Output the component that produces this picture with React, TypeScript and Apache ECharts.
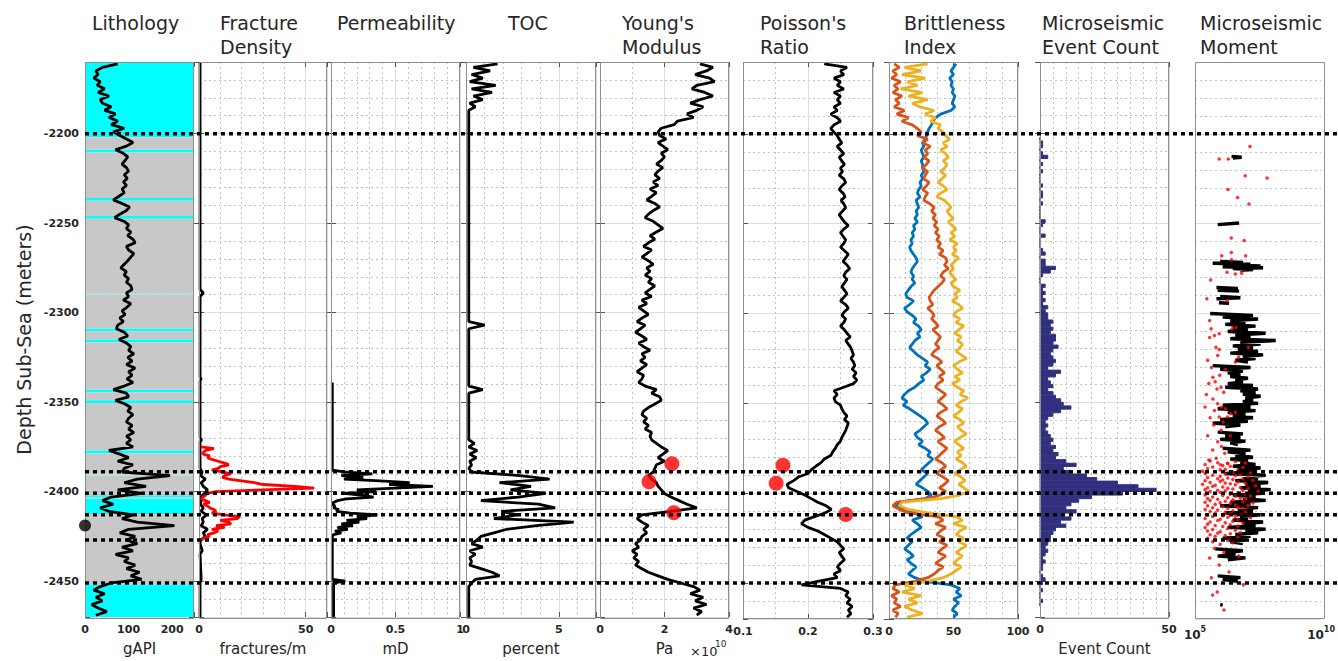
import React, { useEffect, useRef } from "react";
import * as echarts from "echarts";

// ---------------- depth axis ----------------
const DEPTH_MIN = -2470;
const DEPTH_MAX = -2160;
const DEPTH_MINOR_STEP = 10;

// log curves sampled every 2 m from -2161 m downward
const LOG_TOP = -2161;
const LOG_STEP = 2;

// ---------------- log curves (one value per sample) ----------------
const gammaRay = [
  75, 40, 25, 30, 20, 35, 28, 45, 30, 55,
  35, 40, 60, 45, 70, 55, 75, 60, 90, 65,
  80, 95, 110, 95, 70, 88, 98, 92, 85, 95,
  100, 90, 97, 88, 95, 85, 90, 78, 65, 85,
  102, 95, 80, 68, 90, 100, 95, 105, 98, 110,
  115, 95, 100, 112, 105, 98, 90, 82, 95, 90,
  100, 95, 105, 108, 95, 100, 88, 105, 96, 85,
  92, 80, 88, 75, 72, 90, 98, 78, 95, 105,
  100, 112, 98, 108, 95, 115, 100, 108, 96, 110,
  90, 65, 95, 100, 70, 92, 105, 98, 110, 100,
  95, 108, 100, 112, 95, 105, 95, 110, 55, 80,
  100, 75, 110, 90, 85, 195, 120, 90, 140, 75,
  130, 60, 40, 65, 35, 55, 110, 85, 120, 205,
  100, 80, 115, 95, 120, 85, 110, 70, 100, 90,
  115, 95, 125, 105, 130, 60, 35, 20, 45, 25,
  40, 15, 30, 50, 25,
];

const youngsModulus = [
  3.1, 3.5, 3.3, 2.95, 3.4, 3.55, 3.0, 2.85, 3.25, 3.5,
  3.1, 2.8, 3.2, 3.0, 2.7, 2.9, 2.4, 2.3, 1.9, 1.8,
  1.85, 2.05, 1.8, 1.95, 2.1, 1.9, 2.0, 1.9, 1.75, 1.95,
  1.8, 1.7, 1.85, 1.65, 1.8, 1.55, 1.75, 1.6, 1.45, 1.7,
  1.85, 1.65, 1.5, 1.4, 1.65, 1.8, 1.95, 1.75, 1.55, 1.7,
  1.5, 1.35, 1.6, 1.45, 1.3, 1.5, 1.65, 1.45, 1.55, 1.4,
  1.6, 1.5, 1.7, 1.55, 1.4, 1.6, 1.3, 1.45, 1.2, 1.35,
  1.5, 1.3, 1.15, 1.4, 1.25, 1.1, 1.3, 1.45, 1.2, 1.35,
  1.55, 1.3, 1.4, 1.25, 1.45, 1.3, 1.15, 1.35, 1.3, 1.2,
  1.4, 1.75, 1.6, 1.85, 1.9, 1.7, 1.5, 1.35, 1.3, 1.45,
  1.35, 1.5, 1.4, 1.6, 1.55, 1.6, 1.75, 1.9, 2.1, 1.95,
  1.8, 2.0, 1.75, 1.7, 1.65, 1.5, 1.6, 1.75, 1.8, 1.9,
  2.0, 2.2, 2.45, 2.7, 3.0, 2.2, 1.3, 1.15, 1.3, 1.5,
  1.35, 1.45, 1.3, 1.25, 1.1, 1.2, 1.0, 1.15, 1.05, 1.2,
  1.1, 1.3, 1.5, 1.8, 2.1, 2.5, 2.9, 3.1, 2.8, 3.2,
  2.95, 3.3, 2.9, 3.15, 3.0,
];

const poissonsRatio = [
  0.225, 0.26, 0.25, 0.255, 0.24, 0.25, 0.245, 0.255, 0.24, 0.25,
  0.245, 0.25, 0.24, 0.245, 0.235, 0.245, 0.25, 0.24, 0.235, 0.24,
  0.245, 0.248, 0.252, 0.245, 0.25, 0.255, 0.248, 0.252, 0.256, 0.25,
  0.253, 0.248, 0.255, 0.258, 0.252, 0.248, 0.254, 0.257, 0.251, 0.255,
  0.258, 0.253, 0.248, 0.252, 0.256, 0.262, 0.255, 0.25, 0.254, 0.258,
  0.255, 0.25, 0.256, 0.262, 0.258, 0.254, 0.26, 0.264, 0.258, 0.255,
  0.26, 0.256, 0.252, 0.256, 0.26, 0.255, 0.25, 0.258, 0.262, 0.256,
  0.252, 0.258, 0.255, 0.25, 0.256, 0.26, 0.265, 0.258, 0.262, 0.266,
  0.268, 0.27, 0.266, 0.27, 0.272, 0.268, 0.274, 0.27, 0.275, 0.27,
  0.255, 0.24, 0.245, 0.24, 0.242, 0.25, 0.252, 0.255, 0.26, 0.256,
  0.262, 0.26, 0.258, 0.255, 0.252, 0.25, 0.245, 0.242, 0.238, 0.235,
  0.225, 0.22, 0.212, 0.205, 0.2, 0.185, 0.178, 0.168, 0.17, 0.183,
  0.195, 0.205, 0.215, 0.228, 0.236, 0.226, 0.21, 0.195, 0.19, 0.2,
  0.215, 0.225, 0.235, 0.245, 0.25, 0.255, 0.248, 0.252, 0.256, 0.25,
  0.245, 0.25, 0.24, 0.245, 0.215, 0.19, 0.25, 0.262, 0.258, 0.265,
  0.26, 0.268, 0.262, 0.266, 0.26,
];

const brittlenessBlue = [
  52, 50, 48, 50, 47, 49, 48, 50, 49, 51,
  50, 49, 51, 48, 40, 36, 34, 33, 31, 30,
  29, 28, 26, 27, 25, 26, 27, 25, 26, 26,
  27, 25, 26, 24, 25, 23, 22, 24, 21, 22,
  23, 21, 22, 20, 22, 19, 20, 18, 19, 17,
  18, 16, 17, 19, 21, 22, 20, 18, 17, 19,
  18, 20, 17, 15, 13, 14, 19, 16, 12, 14,
  18, 21, 19, 23, 25, 22, 24, 20, 18, 16,
  19, 22, 26, 30, 28, 32, 29, 25, 27, 23,
  20, 15, 12, 10, 14, 11, 16, 20, 24, 28,
  30, 27, 24, 20, 22, 26, 23, 28, 32, 30,
  34, 31, 28, 25, 30, 27, 24, 21, 26, 30,
  33, 28, 8, 5, 12, 20, 26, 18, 22, 25,
  21, 17, 14, 18, 15, 12, 16, 19, 14, 17,
  21, 18, 15, 20, 28, 48, 55, 52, 56, 50,
  54, 51, 49, 53, 50,
];

const brittlenessOrange = [
  4, 8, 3, 6, 2, 9, 4, 7, 3, 10,
  5, 8, 4, 12, 6, 15, 10, 18, 22, 25,
  22, 30, 26, 32, 28, 30, 27, 31, 29, 26,
  30, 28, 27, 31, 29, 26, 30, 28, 27, 32,
  35, 33, 36, 34, 37, 35, 38, 36, 39, 37,
  40, 38, 42, 39, 44, 45, 43, 46, 42, 40,
  43, 41, 38, 35, 33, 31, 32, 34, 30, 33,
  35, 33, 36, 38, 34, 37, 40, 38, 36, 39,
  35, 33, 38, 41, 37, 40, 43, 39, 42, 38,
  36, 40, 44, 41, 38, 42, 45, 40, 37, 41,
  44, 39, 36, 40, 43, 38, 41, 45, 42, 39,
  36, 41, 44, 40, 37, 42, 46, 43, 39, 44,
  40, 30, 6, 3, 8, 15, 38, 42, 36, 44,
  40, 37, 43, 39, 45, 41, 38, 44, 40, 36,
  42, 38, 35, 30, 20, 5, 3, 8, 2, 6,
  4, 9, 3, 7, 5,
];

const brittlenessYellow = [
  30, 12, 25, 10, 28, 14, 22, 9, 26, 15,
  30, 18, 24, 35, 28, 36, 32, 40, 38, 42,
  44, 47, 42, 45, 40, 44, 46, 42, 45, 43,
  40, 44, 41, 38, 42, 45, 40, 37, 43, 46,
  48, 45, 47, 50, 46, 49, 52, 48, 51, 47,
  53, 50, 52, 49, 54, 51, 48, 50, 47, 49,
  52, 48, 50, 55, 51, 53, 49, 54, 57, 52,
  50, 55, 52, 58, 54, 51, 56, 53, 57, 55,
  52, 56, 60, 54, 50, 53, 57, 51, 55, 49,
  53, 58, 55, 61, 56, 52, 57, 54, 50, 55,
  58, 53, 56, 60, 55, 51, 54, 58, 53, 56,
  52, 57, 60, 55, 51, 56, 59, 54, 58, 62,
  55, 40, 10, 8, 15, 30, 52, 57, 50, 60,
  55, 52, 58, 54, 60, 56, 52, 57, 53, 50,
  56, 52, 48, 42, 30, 12, 20, 10, 25, 15,
  22, 12, 18, 26, 14,
];

const eventCount = [
  0, 0, 0, 0, 0, 0, 0, 0, 0, 0,
  0, 0, 0, 0, 0, 0, 0, 0, 0, 0,
  0, 0, 1, 1, 0, 1, 3, 0, 1, 0,
  1, 0, 0, 0, 1, 0, 1, 1, 0, 1,
  0, 0, 0, 0, 2, 1, 0, 0, 2, 0,
  0, 0, 1, 2, 0, 2, 2, 6, 4, 1,
  0, 0, 2, 1, 2, 1, 2, 1, 3, 2,
  3, 3, 5, 4, 5, 4, 6, 6, 5, 7,
  5, 4, 5, 6, 5, 3, 8, 6, 3, 4,
  5, 3, 5, 6, 8, 9, 12, 8, 5, 3,
  2, 3, 2, 3, 4, 5, 4, 6, 5, 7,
  6, 10, 14, 9, 12, 18, 22, 30, 38, 45,
  32, 20, 15, 12, 10, 14, 9, 12, 8, 10,
  6, 5, 4, 4, 3, 2, 3, 2, 1, 2,
  1, 1, 0, 1, 2, 1, 0, 1, 0, 0,
  1, 0, 0, 0, 0,
];
const EVENT_TOP = -2202;
const EVENT_BASE = -2464;

// ---------------- sparse curves: [depth, value] ----------------
const tocPoints = [
  [-2161, 1.7], [-2163, 0.4], [-2165, 1.3], [-2167, 0.3], [-2169, 0.9], [-2171, 0.2],
  [-2173, 1.6], [-2175, 0.3], [-2177, 1.4], [-2179, 0.4], [-2181, 0.9], [-2183, 0.2],
  [-2185, 0.5], [-2187, 0.15], [-2305, 0.15], [-2307, 1.0], [-2309, 0.15],
  [-2341, 0.15], [-2343, 0.9], [-2345, 0.15], [-2371, 0.15], [-2373, 0.45],
  [-2375, 0.15], [-2377, 0.6], [-2379, 0.2], [-2381, 0.55], [-2383, 0.2], [-2385, 0.3],
  [-2387, 0.15], [-2389, 0.3], [-2391, 2.9], [-2393, 4.5], [-2395, 1.8], [-2397, 3.5],
  [-2399, 2.4], [-2401, 4.3], [-2403, 2.8], [-2405, 0.8], [-2407, 3.9], [-2409, 4.8],
  [-2411, 1.9], [-2413, 2.8], [-2415, 1.5], [-2417, 5.8], [-2419, 3.8], [-2421, 2.2],
  [-2423, 1.5], [-2425, 0.8], [-2427, 0.6], [-2429, 0.3], [-2431, 0.9], [-2433, 0.2],
  [-2435, 0.5], [-2437, 0.2], [-2439, 0.3], [-2441, 0.2], [-2443, 0.8], [-2445, 1.4],
  [-2447, 1.8], [-2449, 0.5], [-2451, 0.3], [-2453, 0.15], [-2470, 0.15],
];

const fractureLogPoints = [
  [-2160, 0.5], [-2287, 0.5], [-2289, 2.0], [-2291, 0.5], [-2336, 0.5], [-2337, 1.0],
  [-2338, 0.5], [-2370, 0.5], [-2371, 1.2], [-2372, 0.5], [-2387, 0.5], [-2389, 1.5],
  [-2391, 0.8], [-2393, 3], [-2395, 1], [-2397, 2], [-2399, 4], [-2401, 2.5],
  [-2403, 0.8], [-2405, 1], [-2407, 0.6], [-2409, 2], [-2411, 1], [-2413, 3.5],
  [-2415, 1.5], [-2417, 2], [-2419, 1], [-2421, 4], [-2423, 2], [-2425, 3],
  [-2427, 0.8], [-2429, 0.5], [-2433, 1.5], [-2435, 0.5], [-2449, 1.0], [-2451, 0.5],
  [-2470, 0.5],
];

const fractureCorePoints = [
  [-2375, 1], [-2376, 7], [-2377, 3], [-2378, 2], [-2379, 2], [-2380, 5], [-2381, 4],
  [-2382, 6], [-2383, 9], [-2384, 12], [-2385, 14], [-2386, 10], [-2387, 9], [-2388, 6],
  [-2389, 11], [-2390, 15], [-2391, 12], [-2392, 11], [-2393, 14], [-2394, 20],
  [-2395, 26], [-2396, 30], [-2397, 45], [-2398, 54], [-2399, 30], [-2400, 8],
  [-2401, 4], [-2402, 3], [-2403, 2], [-2404, 1], [-2405, 3], [-2406, 5], [-2407, 2],
  [-2408, 4], [-2409, 5], [-2410, 7], [-2411, 8], [-2412, 6], [-2413, 12], [-2414, 19],
  [-2415, 18], [-2416, 10], [-2417, 14], [-2418, 15], [-2419, 8], [-2420, 12],
  [-2421, 6], [-2422, 9], [-2423, 7], [-2424, 4], [-2425, 5], [-2426, 2], [-2427, 1],
];

const permeabilityPoints = [
  [-2339, 0.01], [-2387, 0.01], [-2388, 0.01], [-2389, 0.1], [-2390, 0.32], [-2391, 0.08],
  [-2392, 0.25], [-2393, 0.1], [-2394, 0.38], [-2395, 0.61], [-2396, 0.45], [-2397, 0.79],
  [-2398, 0.5], [-2399, 0.2], [-2400, 0.35], [-2401, 0.1], [-2402, 0.25], [-2403, 0.33],
  [-2404, 0.12], [-2405, 0.05], [-2406, 0.02], [-2407, 0.01], [-2408, 0.03], [-2409, 0.02],
  [-2410, 0.06], [-2411, 0.04], [-2412, 0.15], [-2413, 0.36], [-2414, 0.2], [-2415, 0.28],
  [-2416, 0.12], [-2417, 0.22], [-2418, 0.08], [-2419, 0.17], [-2420, 0.05], [-2421, 0.13],
  [-2422, 0.03], [-2423, 0.08], [-2424, 0.02], [-2425, 0.01], [-2449, 0.01], [-2450, 0.11],
  [-2451, 0.02], [-2470, 0.02],
];

// ---------------- lithology intervals ----------------
const lithoTop = [
  -2160, -2202, -2209, -2210.5, -2236, -2237.5, -2246, -2247.5, -2289, -2290, -2309, -2310.5,
  -2315, -2316.5, -2343, -2344.5, -2349, -2350.5, -2377, -2378.5, -2390, -2391, -2402, -2403,
  -2404, -2412.5, -2452,
];
const lithoBase = [
  -2202, -2209, -2210.5, -2236, -2237.5, -2246, -2247.5, -2289, -2290, -2309, -2310.5, -2315,
  -2316.5, -2343, -2344.5, -2349, -2350.5, -2377, -2378.5, -2390, -2391, -2402, -2403, -2404,
  -2412.5, -2452, -2470,
];
// 0 = sand (cyan), 1 = shale (grey), 2 = thin silty streak
const lithoCode = [0, 1, 0, 1, 0, 1, 0, 1, 2, 1, 0, 1, 0, 1, 0, 1, 0, 1, 0, 1, 2, 1, 0, 1, 0, 1, 0];

// ---------------- core / lab points ----------------
const labDepth = [-2384.4, -2394.4, -2411.8];
const labYoungs = [2.23, 1.52, 2.29];
const labPoisson = [0.1615, 0.151, 0.258];

// ---------------- formation tops & marker ----------------
const formationTops = [-2200, -2388, -2400, -2412, -2426, -2450];
const markerDepth = -2418;

// ---------------- microseismic moment: [log10(moment), depth] ----------------
const momentRuns = [
  [[6.45, -2212.5], [6.85, -2213], [6.5, -2213.5]],
  [[5.9, -2250.5], [6.75, -2249.6]],
  [[6.0, -2271], [6.9, -2271.5], [5.7, -2272], [7.2, -2272.5], [6.3, -2273], [7.6, -2273.5],
   [6.1, -2274], [7.7, -2274.5], [6.5, -2275], [7.3, -2275.5], [6.8, -2276]],
  [[5.85, -2285.5], [6.7, -2286], [5.9, -2287], [6.75, -2287.5]],
  [[6.0, -2290.5], [6.8, -2291.2], [5.85, -2291.8]],
  [[5.95, -2294], [6.35, -2294.3]],
  [[5.6, -2300], [7.3, -2301], [6.1, -2302], [7.5, -2303], [6.4, -2304], [7.0, -2305],
   [6.2, -2306], [7.4, -2307], [6.5, -2308], [7.1, -2309], [6.3, -2310], [7.8, -2311],
   [6.6, -2312], [7.2, -2313], [6.4, -2314], [8.2, -2315], [6.8, -2316], [7.6, -2317],
   [6.5, -2318], [7.3, -2319], [6.7, -2320], [7.5, -2321], [6.4, -2322], [7.7, -2323],
   [6.9, -2324], [7.4, -2325], [6.6, -2326], [7.1, -2327]],
  [[5.7, -2329], [7.2, -2330], [6.0, -2331], [6.9, -2332], [6.3, -2333], [6.8, -2334],
   [6.4, -2335], [7.1, -2336], [6.6, -2337], [6.9, -2338], [6.3, -2339], [7.3, -2340],
   [6.2, -2341], [7.5, -2342], [6.8, -2343], [7.4, -2344], [6.9, -2345], [7.6, -2346],
   [7.0, -2347], [7.3, -2348], [6.9, -2349], [7.5, -2350], [6.1, -2351], [7.2, -2352],
   [5.9, -2353], [7.4, -2354], [6.3, -2355], [7.0, -2356], [6.5, -2357], [7.3, -2358],
   [6.0, -2359], [7.1, -2360], [5.7, -2361], [6.8, -2362], [6.2, -2363]],
  [[5.9, -2366], [6.9, -2367], [6.2, -2368], [6.8, -2369], [6.0, -2370], [7.0, -2371],
   [6.4, -2372], [6.7, -2373]],
  [[6.1, -2375], [7.2, -2376], [6.3, -2377], [7.0, -2378], [6.6, -2379], [7.3, -2380],
   [6.4, -2381], [7.1, -2382], [6.8, -2383], [7.4, -2384], [6.5, -2385], [7.6, -2386],
   [6.7, -2387], [7.3, -2388], [6.2, -2389], [7.8, -2390], [6.9, -2391], [7.5, -2392],
   [6.6, -2393], [7.9, -2394], [7.0, -2395], [7.6, -2396], [6.8, -2397], [8.0, -2398],
   [7.1, -2399], [7.7, -2400], [6.5, -2401], [7.4, -2402], [6.9, -2403], [7.8, -2404],
   [6.4, -2405], [7.2, -2406], [6.0, -2407], [7.5, -2408], [6.7, -2409], [7.3, -2410],
   [6.2, -2411], [7.6, -2412], [6.8, -2413], [7.1, -2414], [6.5, -2415], [7.7, -2416],
   [6.9, -2417], [7.4, -2418], [6.3, -2419], [7.8, -2420], [7.0, -2421], [7.5, -2422],
   [6.6, -2423], [7.2, -2424], [6.1, -2425], [7.0, -2426], [6.4, -2427], [6.9, -2428]],
  [[5.8, -2431], [6.9, -2432], [6.2, -2433], [6.6, -2434], [5.9, -2435], [7.0, -2436], [6.3, -2437]],
  [[5.9, -2446], [6.8, -2447], [6.1, -2448], [6.7, -2449]],
  [[6.0, -2462], [6.1, -2462.3]],
];

const momentEvents = [
  [7.18, -2207], [5.96, -2214], [6.32, -2214], [6.99, -2223.3], [7.86, -2224.6], [6.31, -2231],
  [6.69, -2235.4], [7.14, -2239], [6.44, -2258], [6.95, -2259.4], [6.44, -2266], [6.06, -2267.8],
  [7.01, -2267.8], [6.45, -2270], [6.27, -2277], [6.6, -2278], [6.85, -2277.5], [5.62, -2281.3],
  [5.47, -2291.8], [6.27, -2292.8],
  [5.58, -2303.9], [5.64, -2308.5], [5.77, -2312.2], [5.96, -2311.3], [5.58, -2313.3], [6.47, -2308.5],
  [6.62, -2307.8], [5.83, -2318.7], [5.96, -2320], [5.9, -2323.3], [7.12, -2318.7], [6.73, -2324.2],
  [6.6, -2327], [5.71, -2335.4], [5.98, -2334.4], [6.03, -2341], [5.87, -2342], [6.14, -2343.8],
  [5.71, -2347.5], [5.9, -2350.2], [6.03, -2352], [5.77, -2354], [6.21, -2353], [6.41, -2355.8],
  [5.96, -2357.6], [6.11, -2360.4], [6.29, -2357.6], [6.6, -2355], [6.04, -2365], [5.9, -2371.4],
  [6.05, -2374], [5.84, -2380.5], [6.18, -2377.8], [6.01, -2384.2], [6.29, -2383.3], [5.55, -2381.5],
  [5.5, -2326], [5.65, -2330], [5.8, -2338], [5.45, -2345], [5.6, -2358], [5.75, -2362],
  [5.5, -2368], [5.7, -2376], [6.4, -2368], [5.4, -2352], [6.2, -2331], [5.55, -2339],
  [5.6, -2382], [6.6, -2382.4], [5.9, -2383], [6.3, -2383.5], [7.0, -2383.2], [5.4, -2384],
  [6.1, -2384.6], [6.4, -2385], [5.7, -2385.4], [6.9, -2385.7], [5.5, -2386.2], [6.2, -2386.6],
  [6.0, -2387], [6.7, -2387.3], [5.3, -2387.7], [5.8, -2388.1], [6.5, -2388.4], [7.2, -2388.8],
  [5.4, -2389], [6.2, -2389.3], [6.8, -2389.7], [5.7, -2390], [6.0, -2390.5], [6.6, -2390.2],
  [7.1, -2390.8], [5.5, -2391.2], [6.3, -2391.5], [6.9, -2391.9], [5.9, -2392], [6.1, -2392.6],
  [6.5, -2392.3], [7.3, -2392.8], [5.4, -2393.1], [6.0, -2393.4], [6.7, -2393.8], [5.6, -2394],
  [6.2, -2394.3], [6.4, -2394.7], [7.0, -2394.5], [5.3, -2395], [5.8, -2395.6], [6.6, -2395.3],
  [7.4, -2395.8], [5.7, -2396.1], [6.1, -2396.5], [6.8, -2396.8], [5.5, -2397], [6.3, -2397.3],
  [6.5, -2397.7], [7.1, -2397.4], [5.4, -2398], [5.9, -2398.3], [6.2, -2398.7], [6.9, -2398.5],
  [7.5, -2398.9], [5.6, -2399.1], [6.0, -2399.5], [6.7, -2399.8], [5.8, -2400.2], [6.4, -2400.6],
  [7.0, -2400.4], [5.4, -2401], [6.1, -2401.3], [6.6, -2401.7], [7.2, -2401.5], [5.7, -2402.1],
  [6.3, -2402.5], [6.8, -2402.8], [5.5, -2403], [5.9, -2403.4], [6.5, -2403.7], [7.0, -2403.2],
  [5.6, -2404.1], [6.2, -2404.5], [6.9, -2404.8], [5.4, -2405], [6.0, -2405.3], [6.4, -2405.7],
  [7.3, -2405.5], [5.8, -2406.2], [6.6, -2406.6], [7.1, -2406.9], [5.5, -2407], [6.1, -2407.4],
  [6.7, -2407.8], [5.7, -2408.1], [6.3, -2408.5], [6.9, -2408.3], [5.4, -2409], [5.9, -2409.4],
  [6.5, -2409.8], [5.6, -2410.2], [6.2, -2410.6], [7.0, -2410.4], [5.8, -2411], [6.4, -2411.3],
  [6.8, -2411.7], [5.5, -2412.1], [6.1, -2412.5], [6.6, -2412.8], [5.7, -2413], [6.3, -2413.4],
  [7.2, -2413.7], [5.4, -2414.1], [6.0, -2414.5], [6.7, -2414.8], [5.9, -2415.2], [6.5, -2415.6],
  [5.6, -2416], [6.2, -2416.4], [6.9, -2416.8], [5.5, -2417.2], [6.4, -2417.6], [5.8, -2418],
  [6.1, -2418.5], [6.7, -2418.3], [5.4, -2419.1], [6.3, -2419.6], [5.7, -2420.2], [6.6, -2420.6],
  [5.5, -2421], [6.0, -2421.4], [6.8, -2421.8], [5.9, -2422.2], [6.4, -2422.6], [5.6, -2423.1],
  [6.2, -2423.5], [5.8, -2424], [6.7, -2424.5], [5.5, -2425.1], [6.1, -2425.6], [6.3, -2426.3],
  [5.7, -2427], [6.5, -2427.5], [6.0, -2428.4],
  [5.77, -2430.6], [6.15, -2432.8], [5.58, -2436], [6.73, -2435], [5.96, -2440], [6.35, -2443.9],
  [5.65, -2447], [6.92, -2451], [5.88, -2455], [5.7, -2456.7], [6.15, -2465],
];

// ---------------- panel titles / axis texts ----------------
const panelTitles = [
  "Lithology", "Fracture\nDensity", "Permeability", "TOC", "Young's\nModulus",
  "Poisson's\nRatio", "Brittleness\nIndex", "Microseismic\nEvent Count", "Microseismic\nMoment",
];
const axisNames = ["gAPI", "fractures/m", "mD", "percent", "Pa", "", "", "Event Count", ""];
const tickLabels = [
  [0, 100, 200], [0, 50], [0, 0.5, 1], [0, 5], [0, 2, 4], [0.1, 0.2, 0.3], [0, 50, 100], [0, 50], [],
];
const youngsExponentText = "×10";
const youngsExponentPower = "10";

// ---------------- layout (pixels) ----------------
const PLOT_TOP = 62;
const PLOT_H = 557;
const PANELS = [
  { left: 85, width: 109, min: 0, max: 250, major: 100, minor: 0, titleX: 92 },
  { left: 199, width: 128, min: 0, max: 60, major: 50, minor: 10, titleX: 220 },
  { left: 331, width: 129, min: 0, max: 1, major: 0.5, minor: 0.1, titleX: 337 },
  { left: 466, width: 130, min: 0, max: 7, major: 5, minor: 1, titleX: 508 },
  { left: 600, width: 129, min: 0, max: 4, major: 2, minor: 1, titleX: 622 },
  { left: 743, width: 130, min: 0.1, max: 0.3, major: 0.1, minor: 0.05, titleX: 760 },
  { left: 889, width: 129, min: 0, max: 100, major: 50, minor: 12.5, titleX: 904 },
  { left: 1040, width: 129, min: 0, max: 50, major: 50, minor: 5, titleX: 1042 },
  { left: 1195, width: 130, min: 1e5, max: 1e10, major: 0, minor: 0, log: true, titleX: 1200 },
];

const TEXT = "#262626";
const LABEL_FONT = { fontFamily: "DejaVu Sans", fontSize: 11, fontWeight: "bold" as const, color: TEXT };
const MAJOR_GRID = "#dedede";
const MINOR_GRID = "#c4c4c4";
const BOX = "#8e8e8e";
const LITHO_COLORS = ["#00FFFF", "#C8C8C8", "#A9E3E3"];
const BI_COLORS = ["#0072BD", "#D95319", "#EDB120"];
const EVENT_COLOR = "#31307F";

function buildOption() {
  const grids: any[] = [];
  const xAxes: any[] = [];
  const yAxes: any[] = [];
  const idx: { x: number; y: number }[] = [];

  PANELS.forEach((p, k) => {
    grids.push({ left: p.left, top: PLOT_TOP, width: p.width, height: PLOT_H });
    const isLitho = k === 0;
    if (p.minor) {
      xAxes.push({
        gridIndex: k, type: "value", position: "bottom", min: p.min, max: p.max, interval: p.minor,
        axisLine: { show: false }, axisTick: { show: false }, axisLabel: { show: false },
        splitLine: { show: true, lineStyle: { color: MINOR_GRID, type: [2, 3], width: 1 } },
      });
    }
    const labels = tickLabels[k];
    const xi = xAxes.length;
    if (p.log) {
      xAxes.push({
        gridIndex: k, type: "log", logBase: 10, position: "bottom", min: p.min, max: p.max,
        axisLine: { show: false }, axisTick: { show: false }, splitLine: { show: false },
        axisLabel: {
          ...LABEL_FONT, margin: 6,
          formatter: (v: number) => {
            const e = Math.round(Math.log10(v));
            return e === 5 ? "{b|10}{s|5}" : e === 10 ? "{b|10}{s|10}" : "";
          },
          rich: {
            b: { ...LABEL_FONT, fontSize: 12, lineHeight: 16, verticalAlign: "bottom" },
            s: { ...LABEL_FONT, fontSize: 8, lineHeight: 16, verticalAlign: "top" },
          },
        },
      });
    } else {
      xAxes.push({
        gridIndex: k, type: "value", position: "bottom", min: p.min, max: p.max, interval: p.major,
        axisLine: { show: false },
        axisTick: { show: true, inside: true, length: 5, lineStyle: { color: "#555" } },
        splitLine: { show: !isLitho, lineStyle: { color: MAJOR_GRID, width: 1 } },
        axisLabel: {
          ...LABEL_FONT, margin: 7, showMinLabel: true, showMaxLabel: true,
          formatter: (v: number) =>
            labels.some((l) => Math.abs(l - v) < 1e-9) ? String(Math.round(v * 100) / 100) : "",
        },
        name: axisNames[k], nameLocation: "middle", nameGap: 24,
        nameTextStyle: { fontFamily: "DejaVu Sans", fontSize: 15, color: TEXT },
      });
      xAxes.push({
        gridIndex: k, type: "value", position: "top", min: p.min, max: p.max, interval: p.major,
        axisLine: { show: false }, axisLabel: { show: false }, splitLine: { show: false },
        axisTick: { show: true, inside: true, length: 5, lineStyle: { color: "#555" } },
      });
    }
    yAxes.push({
      gridIndex: k, type: "value", position: "left", min: DEPTH_MIN, max: DEPTH_MAX,
      interval: DEPTH_MINOR_STEP,
      axisLine: { show: false }, axisTick: { show: false }, axisLabel: { show: false },
      splitLine: { show: true, lineStyle: { color: MINOR_GRID, type: [2, 3], width: 1 } },
    });
    const yi = yAxes.length;
    yAxes.push({
      gridIndex: k, type: "value", position: "left", min: DEPTH_MIN, max: DEPTH_MAX, splitNumber: 6,
      axisLine: { show: false },
      axisTick: { show: !p.log, inside: true, length: 5, lineStyle: { color: "#555" } },
      splitLine: { show: true, lineStyle: { color: MAJOR_GRID, width: 1 } },
      axisLabel: {
        show: isLitho, ...LABEL_FONT, margin: 6,
        formatter: (v: number) => (Math.abs(v % 50) < 1e-9 ? String(v) : ""),
      },
      ...(isLitho
        ? {
            name: "Depth Sub-Sea (meters)", nameLocation: "middle", nameRotate: 90, nameGap: 52,
            nameTextStyle: { fontFamily: "DejaVu Sans", fontSize: 19, color: TEXT },
          }
        : {}),
    });
    yAxes.push({
      gridIndex: k, type: "value", position: "right", min: DEPTH_MIN, max: DEPTH_MAX, splitNumber: 6,
      axisLine: { show: false }, axisLabel: { show: false }, splitLine: { show: false },
      axisTick: { show: !p.log, inside: true, length: 5, lineStyle: { color: "#555" } },
    });
    idx.push({ x: xi, y: yi });
  });

  // overlay grid for formation tops (spans every panel)
  const ov = grids.length;
  grids.push({ left: 85, right: 0, top: PLOT_TOP, height: PLOT_H });
  const ovX = xAxes.length;
  xAxes.push({ gridIndex: ov, type: "value", min: 0, max: 1, show: false });
  const ovY = yAxes.length;
  yAxes.push({ gridIndex: ov, type: "value", min: DEPTH_MIN, max: DEPTH_MAX, show: false });

  const logDepth = gammaRay.map((_, i) => LOG_TOP - i * LOG_STEP);
  const pairs = (vals: number[]) => vals.map((v, i) => [v, logDepth[i]]);
  const flip = (pts: number[][]) => pts.map(([d, v]) => [v, d]);

  const series: any[] = [];
  const line = (k: number, data: any[], color: string, width = 2.8, z = 3) =>
    series.push({
      type: "line", xAxisIndex: idx[k].x, yAxisIndex: idx[k].y, data, symbol: "none",
      showSymbol: false, lineStyle: { color, width }, z, silent: true, animation: false,
    });

  // lithology fill
  series.push({
    type: "custom", xAxisIndex: idx[0].x, yAxisIndex: idx[0].y, silent: true, z: 1,
    data: lithoTop.map((t, i) => [t, lithoBase[i], lithoCode[i]]),
    renderItem: (_p: any, api: any) => {
      const a = api.coord([PANELS[0].min, api.value(0)]);
      const b = api.coord([PANELS[0].max, api.value(1)]);
      return {
        type: "rect",
        shape: { x: a[0], y: a[1], width: b[0] - a[0], height: b[1] - a[1] },
        style: { fill: LITHO_COLORS[api.value(2)] },
      };
    },
  });
  line(0, pairs(gammaRay), "#000");
  line(1, flip(fractureLogPoints), "#000");
  line(1, flip(fractureCorePoints), "#FF0000");
  line(2, flip(permeabilityPoints), "#000");
  line(3, flip(tocPoints), "#000");
  line(4, pairs(youngsModulus), "#000");
  line(5, pairs(poissonsRatio), "#000");
  line(6, pairs(brittlenessBlue), BI_COLORS[0]);
  line(6, pairs(brittlenessOrange), BI_COLORS[1]);
  line(6, pairs(brittlenessYellow), BI_COLORS[2]);

  const dots = (k: number, vals: number[]) =>
    series.push({
      type: "scatter", xAxisIndex: idx[k].x, yAxisIndex: idx[k].y, symbolSize: 15, z: 5,
      itemStyle: { color: "#FF0000" }, silent: true,
      data: vals.map((v, i) => [v, labDepth[i]]),
    });
  dots(4, labYoungs);
  dots(5, labPoisson);

  // event count bars
  series.push({
    type: "custom", xAxisIndex: idx[7].x, yAxisIndex: idx[7].y, silent: true, z: 3,
    data: eventCount
      .map((c, i) => [c, logDepth[i]])
      .filter(([, d]) => d <= EVENT_TOP && d >= EVENT_BASE),
    renderItem: (_p: any, api: any) => {
      const c = api.value(0);
      const d = api.value(1);
      const a = api.coord([0, d + 0.9]);
      const b = api.coord([c, d - 0.9]);
      return {
        type: "rect",
        shape: { x: a[0], y: a[1], width: b[0] - a[0], height: b[1] - a[1] },
        style: { fill: EVENT_COLOR, stroke: EVENT_COLOR, lineWidth: 1 },
      };
    },
  });

  // moment
  momentRuns.forEach((run) =>
    line(8, run.map(([l, d]) => [Math.pow(10, l), d]), "#000", 3.4, 3)
  );
  series.push({
    type: "scatter", xAxisIndex: idx[8].x, yAxisIndex: idx[8].y, symbolSize: 3.5, z: 4,
    itemStyle: { color: "#FF0000" }, silent: true,
    data: momentEvents.map(([l, d]) => [Math.pow(10, l), d]),
  });

  // formation tops
  formationTops.forEach((d) =>
    series.push({
      type: "line", xAxisIndex: ovX, yAxisIndex: ovY, data: [[0, d], [1, d]], symbol: "none",
      lineStyle: { color: "#000", width: 3.5, type: [4, 4] }, z: 20, silent: true, clip: false,
    })
  );
  series.push({
    type: "scatter", xAxisIndex: ovX, yAxisIndex: ovY, symbolSize: 12, z: 21, clip: false,
    itemStyle: { color: "#000" }, silent: true, data: [[0, markerDepth]],
  });

  const graphics: any[] = [];
  PANELS.forEach((p, k) => {
    graphics.push({
      type: "rect", z: 15, silent: true,
      shape: { x: p.left + 0.5, y: PLOT_TOP + 0.5, width: p.width - 1, height: PLOT_H - 1 },
      style: { fill: "none", stroke: BOX, lineWidth: 1 },
    });
    graphics.push({
      type: "text", x: p.titleX, y: 11, z: 15, silent: true,
      style: {
        text: panelTitles[k], fill: TEXT, fontFamily: "DejaVu Sans", fontSize: 19,
        lineHeight: 24, align: "left", verticalAlign: "top",
      },
    });
  });
  graphics.push({
    type: "text", x: 690, y: 651, z: 15, silent: true,
    style: {
      text: youngsExponentText, fill: TEXT, fontFamily: "DejaVu Sans", fontSize: 13,
      align: "left", verticalAlign: "middle",
    },
  });
  graphics.push({
    type: "text", x: 715, y: 644, z: 15, silent: true,
    style: {
      text: youngsExponentPower, fill: TEXT, fontFamily: "DejaVu Sans", fontSize: 9,
      align: "left", verticalAlign: "middle",
    },
  });

  return {
    animation: false,
    backgroundColor: "#ffffff",
    grid: grids,
    xAxis: xAxes,
    yAxis: yAxes,
    series,
    graphic: graphics,
  };
}

export default function App() {
  const ref = useRef<HTMLDivElement>(null);
  useEffect(() => {
    document.body.style.margin = "0";
    if (!ref.current) return;
    const chart = echarts.init(ref.current, undefined, { renderer: "svg" });
    chart.setOption(buildOption() as any);
    return () => chart.dispose();
  }, []);
  return <div ref={ref} style={{ width: 1338, height: 661 }} />;
}
